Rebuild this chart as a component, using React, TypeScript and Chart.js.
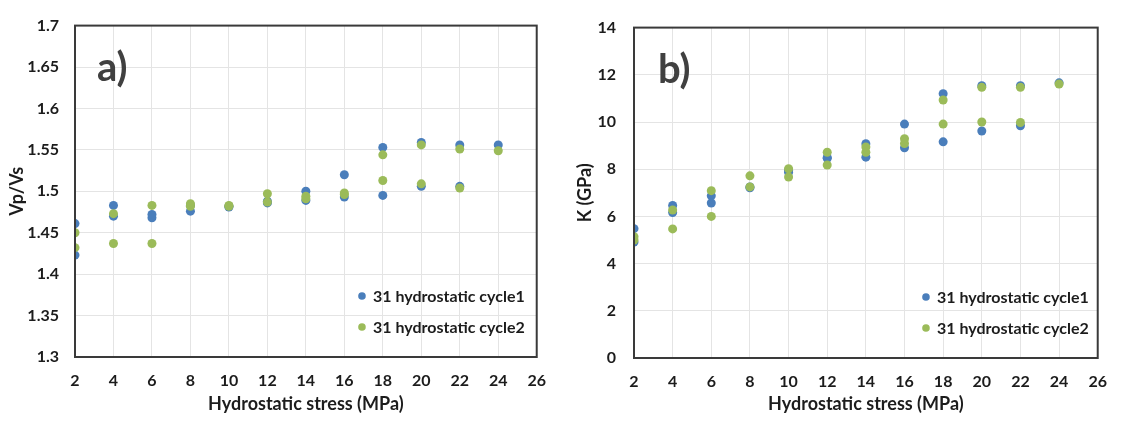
import React, { useEffect, useRef } from 'react';
import { Chart, registerables } from 'chart.js';

Chart.register(...registerables);

// Hydrostatic stress path (loading then unloading), MPa
const stressLoad = [2, 4, 6, 8, 10, 12, 14, 16, 18, 20, 22, 24];
const stressUnload = [22, 20, 18, 16, 14, 12, 10, 8, 6, 4, 2];

// Panel a) Vp/Vs
const vpvsCycle1Load = [1.423, 1.470, 1.468, 1.476, 1.481, 1.486, 1.489, 1.493, 1.495, 1.506, 1.506, 1.556];
const vpvsCycle1Unload = [1.556, 1.559, 1.553, 1.520, 1.500, 1.488, 1.482, 1.483, 1.472, 1.483, 1.461];
const vpvsCycle2Load = [1.432, 1.437, 1.437, 1.482, 1.482, 1.487, 1.491, 1.496, 1.513, 1.509, 1.504, 1.549];
const vpvsCycle2Unload = [1.551, 1.556, 1.544, 1.498, 1.494, 1.497, 1.483, 1.485, 1.483, 1.473, 1.450];

// Panel b) K (GPa)
const kCycle1Load = [4.91, 6.16, 6.57, 7.21, 7.87, 8.46, 8.51, 8.91, 9.16, 9.62, 9.84, 11.66];
const kCycle1Unload = [11.54, 11.54, 11.2, 9.91, 9.08, 8.5, 7.95, 7.25, 6.87, 6.46, 5.48];
const kCycle2Load = [5.0, 5.47, 6.0, 7.25, 7.67, 8.18, 8.72, 9.09, 9.91, 10.0, 9.98, 11.61];
const kCycle2Unload = [11.47, 11.47, 10.93, 9.29, 8.94, 8.72, 8.02, 7.72, 7.09, 6.27, 5.14];

const seriesNames = ['31 hydrostatic cycle1', '31 hydrostatic cycle2'];
const xTitle = 'Hydrostatic stress (MPa)';
const panelA = { label: 'a)', yTitle: 'Vp/Vs', yMin: 1.3, yMax: 1.7, yStep: 0.05 };
const panelB = { label: 'b)', yTitle: 'K (GPa)', yMin: 0, yMax: 14, yStep: 2 };
const xMin = 2;
const xMax = 26;
const xStep = 2;

const BLUE = '#4a7ebb';
const GREEN = '#9bbb59';
const FONT = 'Lato, "Open Sans", sans-serif';
const TEXT = '#1c1c1c';

const toPoints = (xl: number[], yl: number[], xu: number[], yu: number[]) =>
  xl.map((x, i) => ({ x, y: yl[i] })).concat(xu.map((x, i) => ({ x, y: yu[i] })));

type Spec = {
  panel: { label: string; yTitle: string; yMin: number; yMax: number; yStep: number };
  c1: { x: number; y: number }[];
  c2: { x: number; y: number }[];
  yWidth: number;
  xHeight: number;
  padRight: number;
  tickPad: number;
  yTitlePad: number;
  labelDx: number;
  legendRightGap: number;
};

function build(canvas: HTMLCanvasElement, s: Spec) {
  const overlay = {
    id: 'overlay',
    beforeDatasetsDraw(chart: any) {
      const { ctx, chartArea } = chart;
      ctx.save();
      ctx.font = `bold 40px ${FONT}`;
      ctx.fillStyle = '#404040';
      ctx.textBaseline = 'alphabetic';
      ctx.textAlign = 'left';
      ctx.fillText(s.panel.label, chartArea.left + s.labelDx, chartArea.top + 55);
      ctx.restore();
    },
    afterDraw(chart: any) {
      const { ctx, chartArea } = chart;
      ctx.save();
      ctx.strokeStyle = '#3a3a3a';
      ctx.lineWidth = 2;
      ctx.strokeRect(chartArea.left, chartArea.top, chartArea.right - chartArea.left, chartArea.bottom - chartArea.top);
      // legend
      ctx.font = `bold 16px ${FONT}`;
      ctx.textBaseline = 'middle';
      ctx.textAlign = 'left';
      const w = Math.max(...seriesNames.map((n) => ctx.measureText(n).width));
      const tx = chartArea.right - s.legendRightGap - w;
      const cols = [BLUE, GREEN];
      const offs = [61, 30];
      seriesNames.forEach((n, i) => {
        const y = chartArea.bottom - offs[i];
        ctx.fillStyle = cols[i];
        ctx.beginPath();
        ctx.arc(tx - 11, y, 3.8, 0, Math.PI * 2);
        ctx.fill();
        ctx.fillStyle = TEXT;
        ctx.fillText(n, tx, y + 1);
      });
      ctx.restore();
    },
  };

  return new Chart(canvas, {
    type: 'scatter',
    data: {
      datasets: [
        { label: seriesNames[0], data: s.c1, backgroundColor: BLUE, pointRadius: 4.5, pointBorderWidth: 0, order: 2 },
        { label: seriesNames[1], data: s.c2, backgroundColor: GREEN, pointRadius: 4.5, pointBorderWidth: 0, order: 1 },
      ],
    },
    options: {
      animation: false,
      responsive: false,
      layout: { padding: { top: 15, right: s.padRight, left: 0, bottom: 0 } },
      plugins: { legend: { display: false }, tooltip: { enabled: false } },
      scales: {
        x: {
          type: 'linear',
          min: xMin,
          max: xMax,
          afterFit: (sc: any) => { sc.height = s.xHeight; },
          ticks: { stepSize: xStep, padding: 14, color: TEXT, font: { family: FONT, size: 16, weight: 'bold' } },
          grid: { color: '#e4e4e4', drawTicks: false, lineWidth: 1 },
          border: { display: false },
          title: { display: true, text: xTitle, color: TEXT, font: { family: FONT, size: 18, weight: 'bold' }, padding: { top: 0, bottom: 8 } },
        },
        y: {
          type: 'linear',
          min: s.panel.yMin,
          max: s.panel.yMax,
          afterFit: (sc: any) => { sc.width = s.yWidth; },
          ticks: {
            stepSize: s.panel.yStep,
            padding: s.tickPad,
            color: TEXT,
            font: { family: FONT, size: 16, weight: 'bold' },
            callback: (v: any) => String(Math.round(Number(v) * 1000) / 1000),
          },
          grid: { color: '#e4e4e4', drawTicks: false, lineWidth: 1 },
          border: { display: false },
          title: { display: true, text: s.panel.yTitle, color: TEXT, font: { family: FONT, size: 18, weight: 'bold' }, padding: { top: s.yTitlePad, bottom: 0 } },
        },
      },
    },
    plugins: [overlay],
  } as any);
}

export default function App() {
  const refA = useRef<HTMLCanvasElement>(null);
  const refB = useRef<HTMLCanvasElement>(null);

  useEffect(() => {
    const a = build(refA.current!, {
      panel: panelA,
      c1: toPoints(stressLoad, vpvsCycle1Load, stressUnload, vpvsCycle1Unload),
      c2: toPoints(stressLoad, vpvsCycle2Load, stressUnload, vpvsCycle2Unload),
      yWidth: 75,
      xHeight: 66,
      padRight: 18,
      tickPad: 16,
      yTitlePad: 6,
      labelDx: 22,
      legendRightGap: 12,
    });
    const b = build(refB.current!, {
      panel: panelB,
      c1: toPoints(stressLoad, kCycle1Load, stressUnload, kCycle1Unload),
      c2: toPoints(stressLoad, kCycle2Load, stressUnload, kCycle2Unload),
      yWidth: 74,
      xHeight: 65,
      padRight: 22,
      tickPad: 18,
      yTitlePad: 14,
      labelDx: 24,
      legendRightGap: 9,
    });
    return () => {
      a.destroy();
      b.destroy();
    };
  }, []);

  return (
    <div style={{ position: 'absolute', left: 0, top: 0, width: 1121, height: 423, background: '#fff' }}>
      <canvas ref={refA} width={560} height={423} style={{ position: 'absolute', left: 0, top: 0, width: 560, height: 423 }} />
      <canvas ref={refB} width={561} height={423} style={{ position: 'absolute', left: 560, top: 0, width: 561, height: 423 }} />
    </div>
  );
}
